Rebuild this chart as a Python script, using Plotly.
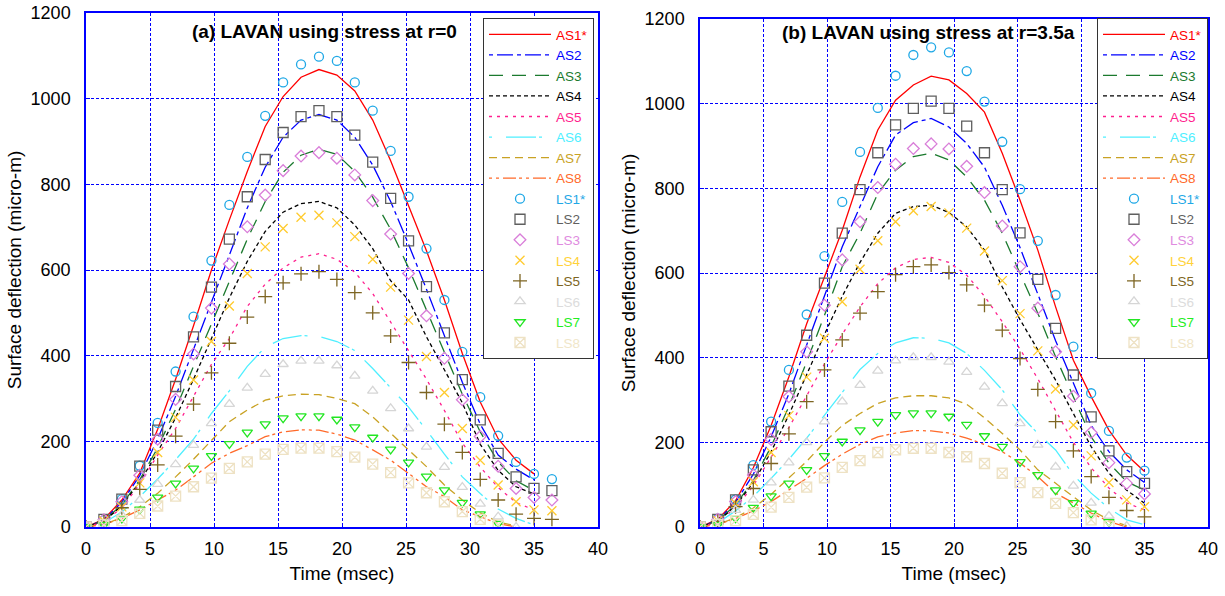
import plotly.graph_objects as go

# ---------------- data ----------------
time = [0, 1.4, 2.8, 4.2, 5.6, 7.0, 8.4, 9.8, 11.2, 12.6, 14.0, 15.4, 16.8, 18.2,
        19.6, 21.0, 22.4, 23.8, 25.2, 26.6, 28.0, 29.4, 30.8, 32.2, 33.6, 35.0, 36.4]

# Panel (a): stress at r=0
a_AS1 = [0, 18, 63, 126, 228, 345, 470, 600, 717, 830, 935, 1005, 1050, 1068, 1055, 1018, 950, 855, 750, 645, 530, 405, 292, 206, 156, 124]
a_AS2 = [0, 16, 58, 120, 205, 305, 415, 527, 635, 745, 840, 910, 950, 963, 950, 910, 845, 760, 660, 555, 445, 338, 240, 168, 135, 110]
a_AS3 = [0, 15, 52, 110, 185, 275, 375, 475, 575, 672, 760, 828, 868, 882, 870, 830, 770, 695, 605, 505, 408, 310, 222, 152, 108, 85]
a_AS4 = [0, 13, 50, 105, 175, 255, 345, 440, 535, 620, 690, 735, 755, 760, 745, 705, 650, 575, 530, 444, 368, 290, 193, 132, 94, 77]
a_AS5 = [0, 12, 45, 100, 168, 230, 305, 380, 440, 515, 567, 605, 630, 638, 625, 595, 545, 478, 410, 345, 272, 196, 140, 92, 57, 40]
a_AS6 = [0, 10, 35, 71, 112, 157, 205, 265, 318, 375, 420, 440, 447, 445, 433, 412, 370, 325, 280, 226, 170, 117, 78, 42, 20, 5]
a_AS7 = [0, 6, 22, 47, 79, 117, 158, 203, 246, 273, 296, 306, 310, 309, 300, 288, 257, 219, 180, 141, 98, 63, 33, 12, 2]
a_AS8 = [0, 6, 20, 40, 63, 86, 117, 149, 172, 190, 211, 222, 227, 226, 217, 203, 180, 156, 125, 94, 71, 40, 24, 8, 0]
a_LS1 = [0, 16, 65, 143, 243, 363, 491, 622, 752, 864, 960, 1038, 1080, 1098, 1088, 1038, 972, 878, 771, 650, 530, 409, 303, 213, 152, 124, 112]
a_LS2 = [0, 18, 65, 142, 226, 328, 444, 560, 672, 771, 858, 921, 958, 972, 958, 915, 852, 767, 668, 561, 453, 344, 250, 172, 117, 90, 85]
a_LS3 = [0, 17, 59, 121, 205, 298, 404, 511, 614, 701, 775, 832, 866, 874, 861, 822, 762, 684, 592, 493, 394, 297, 211, 142, 90, 69, 63]
a_LS4 = [0, 14, 47, 103, 174, 256, 343, 433, 516, 592, 654, 697, 723, 728, 710, 678, 625, 560, 483, 398, 314, 230, 156, 98, 59, 40, 38]
a_LS5 = [0, 12, 45, 88, 145, 212, 287, 360, 429, 490, 538, 570, 591, 596, 578, 547, 500, 446, 384, 314, 240, 174, 111, 63, 30, 20, 18]
a_LS6 = [0, 8, 28, 63, 100, 146, 191, 242, 287, 325, 357, 380, 388, 388, 377, 353, 318, 277, 230, 187, 140, 93, 54, 24, 0]
a_LS7 = [0, 5, 20, 41, 69, 102, 137, 166, 194, 221, 240, 254, 259, 259, 251, 233, 209, 181, 151, 118, 86, 57, 30, 8]
a_LS8 = [0, 5, 15, 32, 49, 72, 94, 114, 137, 152, 170, 181, 184, 184, 176, 163, 147, 127, 103, 80, 59, 36, 18, 5]

# Panel (b): stress at r=3.5a
b_AS1 = [0, 18, 62, 140, 240, 355, 480, 592, 701, 827, 938, 1008, 1044, 1065, 1056, 1024, 980, 883, 772, 654, 520, 394, 308, 229, 170, 131]
b_AS2 = [0, 16, 58, 125, 213, 315, 430, 545, 662, 757, 851, 926, 955, 965, 945, 906, 850, 760, 660, 550, 440, 340, 240, 178, 135, 105]
b_AS3 = [0, 15, 52, 110, 190, 285, 390, 500, 615, 694, 788, 843, 875, 883, 867, 827, 772, 694, 599, 505, 402, 308, 213, 151, 107, 87]
b_AS4 = [0, 13, 50, 105, 178, 265, 360, 455, 545, 625, 694, 741, 757, 760, 743, 709, 654, 567, 490, 420, 347, 268, 190, 127, 87, 56]
b_AS5 = [0, 12, 45, 98, 165, 235, 310, 385, 455, 520, 575, 612, 632, 637, 625, 595, 545, 485, 420, 350, 275, 200, 140, 92, 57, 40]
b_AS6 = [0, 10, 38, 72, 115, 160, 210, 265, 318, 372, 410, 435, 447, 446, 435, 410, 370, 324, 265, 221, 182, 123, 80, 44, 17, 5]
b_AS7 = [0, 6, 22, 45, 77, 115, 155, 200, 240, 268, 292, 305, 310, 310, 305, 290, 258, 221, 182, 135, 103, 72, 40, 17, 3]
b_AS8 = [0, 6, 20, 38, 60, 87, 115, 145, 172, 195, 213, 222, 228, 227, 222, 210, 195, 178, 151, 119, 80, 57, 33, 13, 0]
b_LS1 = [0, 20, 65, 146, 249, 371, 502, 640, 768, 886, 990, 1066, 1115, 1133, 1121, 1077, 1005, 910, 798, 676, 548, 426, 316, 227, 164, 133]
b_LS2 = [0, 18, 64, 135, 225, 333, 453, 576, 694, 797, 884, 950, 989, 1006, 989, 947, 884, 797, 695, 585, 469, 359, 260, 180, 131, 103]
b_LS3 = [0, 18, 60, 123, 207, 308, 414, 524, 631, 721, 802, 857, 894, 905, 893, 852, 790, 711, 615, 517, 414, 309, 223, 152, 103, 78]
b_LS4 = [0, 15, 56, 107, 176, 263, 354, 446, 532, 609, 676, 721, 747, 757, 742, 706, 652, 582, 504, 416, 326, 241, 168, 105, 64, 48]
b_LS5 = [0, 13, 48, 91, 150, 220, 296, 371, 442, 505, 556, 596, 615, 619, 601, 572, 524, 465, 398, 325, 249, 180, 119, 70, 39, 24]
b_LS6 = [0, 10, 40, 64, 105, 152, 200, 249, 296, 335, 369, 393, 401, 401, 390, 366, 331, 292, 245, 194, 142, 97, 57, 26, 2]
b_LS7 = [0, 5, 21, 46, 73, 103, 135, 168, 202, 229, 249, 265, 269, 269, 261, 242, 215, 190, 154, 123, 87, 57, 32, 12]
b_LS8 = [0, 6, 15, 30, 47, 70, 94, 116, 141, 157, 176, 182, 186, 186, 176, 166, 150, 127, 105, 81, 56, 34, 17, 2]

as_names = ["AS1*", "AS2", "AS3", "AS4", "AS5", "AS6", "AS7", "AS8"]
ls_names = ["LS1*", "LS2", "LS3", "LS4", "LS5", "LS6", "LS7", "LS8"]
x_ticks = [0, 5, 10, 15, 20, 25, 30, 35, 40]
y_ticks = [0, 200, 400, 600, 800, 1000, 1200]
panel_titles = ["(a) LAVAN using stress at r=0", "(b) LAVAN using stress at r=3.5a"]
x_title = "Time (msec)"
y_title = "Surface deflection (micro-m)"

# ---------------- styles ----------------
as_colors = ["#FF0000", "#0000FF", "#1B7A2E", "#000000", "#FF1F8E", "#4FEFFF", "#C9A224", "#FF6A2A"]
as_dash = ["solid", "4px,4px,16px,4px", "14px,9px", "4px,3px", "3px,5px",
           "3px,14px,30px,3px", "8px,5px", "3px,4px,3px,4px,13px,3px"]
ls_colors = ["#1FA8E6", "#5F5F5F", "#D97ED9", "#FFCB2E", "#7D6522", "#D6D6D6", "#22E622", "#EEE2C4"]
ls_text_colors = ["#1FA8E6", "#5F5F5F", "#E08BE0", "#FFD23A", "#7D6522", "#DCDCDC", "#22EE22", "#F0E6C8"]
ls_symbols = ["circle-open", "square-open", "diamond-open", "x-thin-open", "cross-thin-open",
              "triangle-up-open", "triangle-down-open", "square-x-open"]
ls_sizes = [9, 10, 9, 9, 10, 9, 9, 10]

FONT = "Arial, 'Liberation Sans', sans-serif"

fig = go.Figure()

panels = [
    ([a_AS1, a_AS2, a_AS3, a_AS4, a_AS5, a_AS6, a_AS7, a_AS8],
     [a_LS1, a_LS2, a_LS3, a_LS4, a_LS5, a_LS6, a_LS7, a_LS8], "x", "y", "legend"),
    ([b_AS1, b_AS2, b_AS3, b_AS4, b_AS5, b_AS6, b_AS7, b_AS8],
     [b_LS1, b_LS2, b_LS3, b_LS4, b_LS5, b_LS6, b_LS7, b_LS8], "x2", "y2", "legend2"),
]

for as_series, ls_series, xa, ya, lg in panels:
    for i, ys in enumerate(as_series):
        fig.add_trace(go.Scatter(
            x=time[:len(ys)], y=ys, mode="lines", xaxis=xa, yaxis=ya, legend=lg,
            name=f"<span style='color:{as_colors[i]}'>{as_names[i]}</span>",
            line=dict(color=as_colors[i], width=1.3, dash=as_dash[i]),
        ))
    for i, ys in enumerate(ls_series):
        fig.add_trace(go.Scatter(
            x=time[:len(ys)], y=ys, mode="markers", xaxis=xa, yaxis=ya, legend=lg,
            name=f"<span style='color:{ls_text_colors[i]}'>{ls_names[i]}</span>",
            marker=dict(symbol=ls_symbols[i], size=ls_sizes[i], color=ls_colors[i],
                        line=dict(color=ls_colors[i], width=1.3)),
            cliponaxis=True,
        ))

W, H = 1225, 596
def px_x(p):
    return p / W
def px_y(p):
    return 1 - p / H

TICK_FONT = dict(family=FONT, size=18, color="#000000")
TITLE_FONT = dict(family=FONT, size=19, color="#000000")

axis_common = dict(
    showline=True, linecolor="#0000FF", linewidth=1.5, mirror=True,
    showgrid=True, gridcolor="#0000FF", gridwidth=1, griddash="3px,2px",
    zeroline=False, ticks="inside", ticklen=4, tickcolor="#0000FF",
    tickfont=TICK_FONT, automargin=False,
)

legend_common = dict(
    xanchor="left", yanchor="top",
    bgcolor="white", bordercolor="#333333", borderwidth=1,
    font=dict(family=FONT, size=13.5), traceorder="normal",
    itemwidth=62, tracegroupgap=0,
)

fig.update_layout(
    width=W, height=H,
    margin=dict(l=0, r=0, t=0, b=0),
    paper_bgcolor="white", plot_bgcolor="white",
    font=dict(family=FONT, size=14, color="#000000"),
    xaxis=dict(domain=[px_x(86), px_x(598)], range=[0, 40], tickvals=x_ticks,
               ticklabelstandoff=5,
               title=dict(text=x_title, standoff=8, font=TITLE_FONT),
               anchor="y", **axis_common),
    yaxis=dict(domain=[px_y(527), px_y(13)], range=[0, 1200], tickvals=y_ticks,
               ticklabelstandoff=10,
               title=dict(text=y_title, standoff=4, font=TITLE_FONT),
               anchor="x", **axis_common),
    xaxis2=dict(domain=[px_x(700), px_x(1208)], range=[0, 40], tickvals=x_ticks,
                ticklabelstandoff=5,
                title=dict(text=x_title, standoff=8, font=TITLE_FONT),
                anchor="y2", **axis_common),
    yaxis2=dict(domain=[px_y(527), px_y(19)], range=[0, 1200], tickvals=y_ticks,
                ticklabelstandoff=10,
                title=dict(text=y_title, standoff=4, font=TITLE_FONT),
                anchor="x2", **axis_common),
    legend=dict(x=px_x(483), y=px_y(18), **legend_common),
    legend2=dict(x=px_x(1097), y=px_y(18), **legend_common),
    showlegend=True,
    annotations=[
        dict(text=f"<b>{panel_titles[0]}</b>", x=px_x(324), y=px_y(31), xref="paper", yref="paper",
             xanchor="center", yanchor="middle",
             showarrow=False, font=dict(family=FONT, size=19, color="#000000")),
        dict(text=f"<b>{panel_titles[1]}</b>", x=px_x(928), y=px_y(33), xref="paper", yref="paper",
             xanchor="center", yanchor="middle",
             showarrow=False, font=dict(family=FONT, size=19, color="#000000")),
    ],
)

fig.write_html("out.html")
